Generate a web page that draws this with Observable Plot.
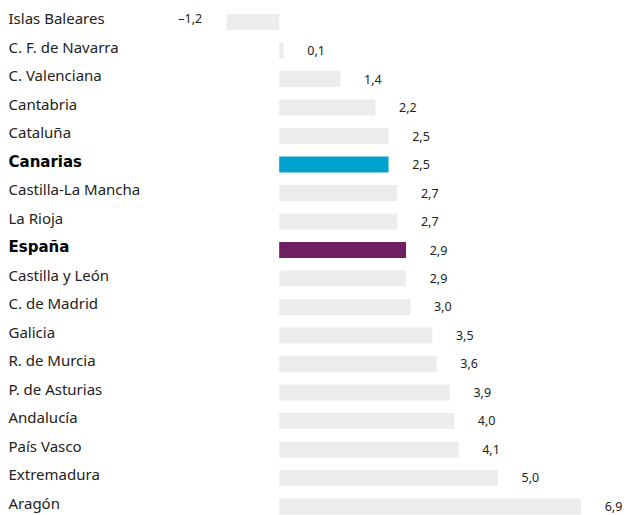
<!DOCTYPE html>
<html><head><meta charset="utf-8">
<script src="https://cdn.jsdelivr.net/npm/d3@7"></script>
<script src="https://cdn.jsdelivr.net/npm/@observablehq/plot@0.6"></script>
<style>body{margin:0;background:#fff}</style>
</head><body><div id="chart"></div>
<script>
const regions = ["Islas Baleares","C. F. de Navarra","C. Valenciana","Cantabria","Cataluña","Canarias","Castilla-La Mancha","La Rioja","España","Castilla y León","C. de Madrid","Galicia","R. de Murcia","P. de Asturias","Andalucía","País Vasco","Extremadura","Aragón"];
const values = [-1.2,0.1,1.4,2.2,2.5,2.5,2.7,2.7,2.9,2.9,3.0,3.5,3.6,3.9,4.0,4.1,5.0,6.9];
const boldRegions = ["Canarias","España"];
const highlightColors = {"Canarias":"#00a2cd","España":"#6e2062"};
const baseColor = "#ebeceb";

const data = regions.map((r,i)=>({region:r, value:values[i], bold: boldRegions.includes(r)}));
const fmt = v => (v<0?"–":"") + Math.abs(v).toFixed(1).replace(".",",");

const chart = Plot.plot({
  width:627, height:515, marginLeft:8, marginRight:0, marginTop:0, marginBottom:0,
  x:{domain:[-1.2,6.9], range:[226.7,581], axis:null},
  y:{domain:regions, range:[1.5,527], padding:0.44, round:false, axis:null},
  color:{type:"identity"},
  style:{fontFamily:"'Noto Sans', sans-serif", background:"#fff", color:"#222"},
  marks:[
    Plot.barX(data,{x:"value", y:"region", fill: d=>highlightColors[d.region] ?? baseColor}),
    Plot.text(data.filter(d=>!d.bold),{y:"region", frameAnchor:"left", text:"region", textAnchor:"start", dy:-3, fontSize:15, fill:"#222"}),
    Plot.text(data.filter(d=>d.bold),{y:"region", frameAnchor:"left", text:"region", textAnchor:"start", dy:-3, fontSize:15, fontWeight:"bold", fontFamily:"'DejaVu Sans'", fill:"#000"}),
    Plot.text(data.filter(d=>d.value>=0),{x:"value", y:"region", text:d=>fmt(d.value), textAnchor:"middle", dx:32, fontSize:12.5, fill:"#222"}),
    Plot.text(data.filter(d=>d.value<0),{x:"value", y:"region", text:d=>fmt(d.value), textAnchor:"end", dx:-25, dy:-4, fontSize:12.5, fill:"#222"})
  ]
});
document.getElementById("chart").appendChild(chart);
</script>
</body></html>
